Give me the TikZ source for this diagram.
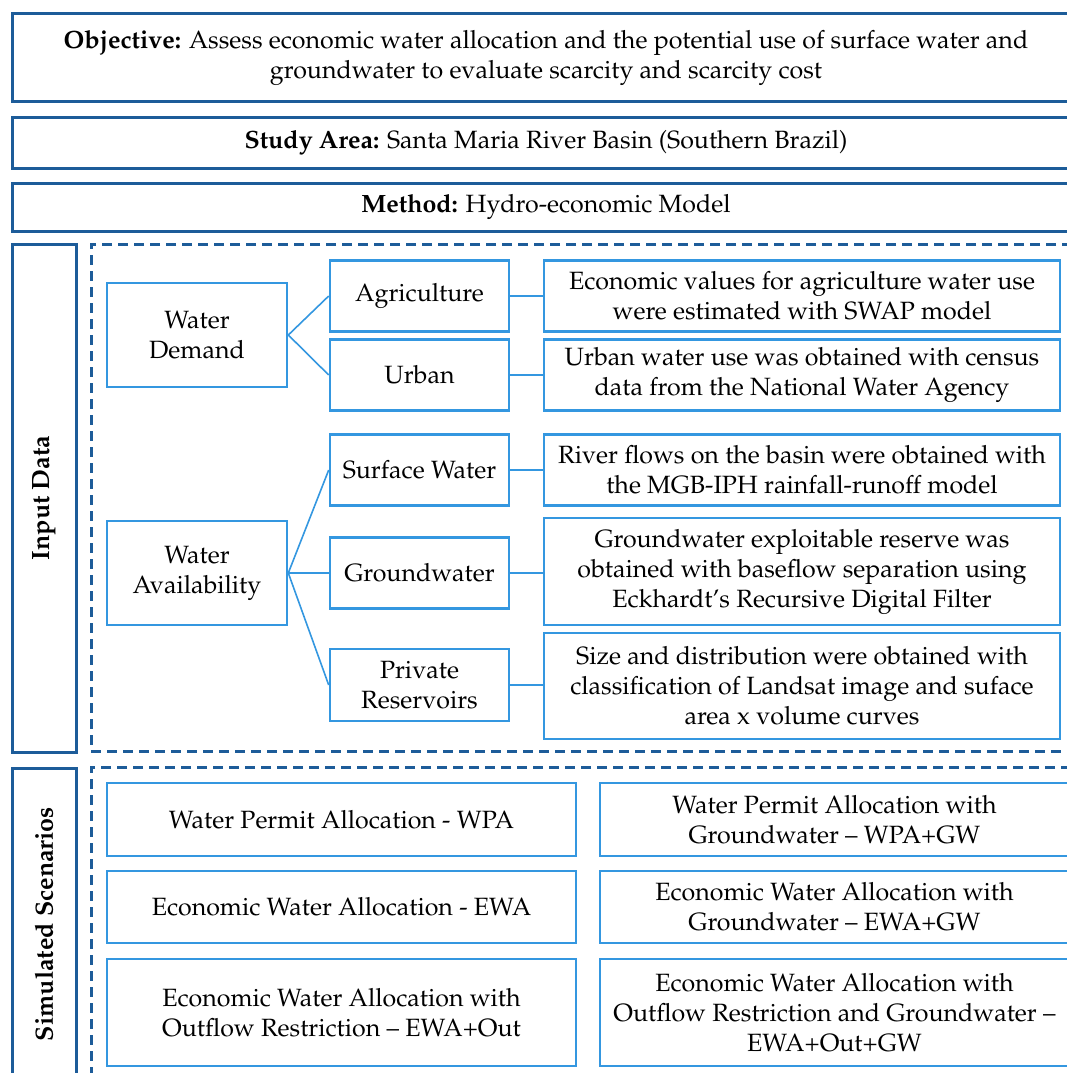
\documentclass[tikz,border=0pt]{standalone}
\usepackage[T1]{fontenc}
\usepackage{mathpazo}
\definecolor{dkblue}{HTML}{1D5C99}
\definecolor{ltblue}{HTML}{3497E0}
\newcommand\fsz{\fontsize{25}{30}\selectfont}
\begin{document}
\begin{tikzpicture}[x=1pt,y=-1pt,
  dkbox/.style={draw=dkblue,line width=3pt,rectangle,align=center,inner sep=0pt,font=\fsz},
  dashbox/.style={draw=dkblue,line width=3pt,rectangle,dash pattern=on 10pt off 6pt,inner sep=0pt},
  ltbox/.style={draw=ltblue,line width=2.6pt,rectangle,align=center,inner sep=0pt,font=\fsz},
  conn/.style={draw=ltblue,line width=1.6pt},
  sidebox/.style={draw=dkblue,line width=3pt,rectangle,rotate=90,inner sep=0pt,font=\fsz\bfseries}]
\useasboundingbox (0,0) rectangle (1067,1073);
\clip (0,0) rectangle (1067,1073);
% top boxes
\node[dkbox,minimum width=1068pt,minimum height=87pt] (obj) at (546,57.5)
  {\textbf{Objective:} Assess economic water allocation and the potential use of surface water and\\groundwater to evaluate scarcity and scarcity cost};
\node[dkbox,minimum width=1068pt,minimum height=51pt] (area) at (546,142.5)
  {\textbf{Study Area:} Santa Maria River Basin (Southern Brazil)};
\node[dkbox,minimum width=1068pt,minimum height=48pt] (meth) at (546,207)
  {\textbf{Method:} Hydro-economic Model};
% side boxes
\node[sidebox,minimum width=508pt,minimum height=64pt] (inside) at (44,498) {Input Data};
\node[sidebox,minimum width=312pt,minimum height=64pt] (simside) at (44,924) {Simulated Scenarios};
% dashed frames
\node[dashbox,minimum width=989pt,minimum height=507pt] (inframe) at (585.5,497.5) {};
\node[dashbox,minimum width=989pt,minimum height=330pt] (simframe) at (585.5,932) {};
% input data
\node[ltbox,minimum width=180pt,minimum height=104pt] (wd) at (197,335) {Water\\Demand};
\node[ltbox,minimum width=179pt,minimum height=71pt] (agri) at (419.5,296) {Agriculture};
\node[ltbox,minimum width=179pt,minimum height=71pt] (urb) at (419.5,375) {Urban};
\node[ltbox,minimum width=516pt,minimum height=71pt] (agrid) at (802,296)
  {Economic values for agriculture water use\\were estimated with SWAP model};
\node[ltbox,minimum width=516pt,minimum height=71pt] (urbd) at (802,375)
  {Urban water use was obtained with census\\data from the National Water Agency};
\node[ltbox,minimum width=180pt,minimum height=104pt] (wa) at (197,573) {Water\\Availability};
\node[ltbox,minimum width=179pt,minimum height=71pt] (sw) at (419.5,470) {Surface Water};
\node[ltbox,minimum width=179pt,minimum height=71pt] (gw) at (419.5,573) {Groundwater};
\node[ltbox,minimum width=179pt,minimum height=72pt] (pr) at (419.5,685) {Private\\Reservoirs};
\node[ltbox,minimum width=516pt,minimum height=71pt] (swd) at (802,470)
  {River flows on the basin were obtained with\\the MGB-IPH rainfall-runoff model};
\node[ltbox,minimum width=516pt,minimum height=107pt] (gwd) at (802,571.5)
  {Groundwater exploitable reserve was\\obtained with baseflow separation using\\Eckhardt's Recursive Digital Filter};
\node[ltbox,minimum width=516pt,minimum height=106pt] (prd) at (802,686)
  {Size and distribution were obtained with\\classification of Landsat image and suface\\area x volume curves};
% connectors
\draw[conn] (wd.east) -- (agri.west);
\draw[conn] (wd.east) -- (urb.west);
\draw[conn] (agri.east) -- (agrid.west);
\draw[conn] (urb.east) -- (urbd.west);
\draw[conn] (wa.east) -- (sw.west);
\draw[conn] (wa.east) -- (gw.west);
\draw[conn] (wa.east) -- (pr.west);
\draw[conn] (sw.east) -- (sw.east -| swd.west);
\draw[conn] (gw.east) -- (gw.east -| gwd.west);
\draw[conn] (pr.east) -- (pr.east -| prd.west);
% scenarios
\node[ltbox,minimum width=469pt,minimum height=73pt] (s1) at (341.5,819.5) {Water Permit Allocation - WPA};
\node[ltbox,minimum width=469pt,minimum height=73pt] (s2) at (834.5,819.5) {Water Permit Allocation with\\Groundwater -- WPA+GW};
\node[ltbox,minimum width=469pt,minimum height=72pt] (s3) at (341.5,907) {Economic Water Allocation - EWA};
\node[ltbox,minimum width=469pt,minimum height=72pt] (s4) at (834.5,907) {Economic Water Allocation with\\Groundwater -- EWA+GW};
\node[ltbox,minimum width=469pt,minimum height=107pt] (s5) at (341.5,1012.5) {Economic Water Allocation with\\Outflow Restriction -- EWA+Out};
\node[ltbox,minimum width=469pt,minimum height=107pt] (s6) at (834.5,1012.5) {Economic Water Allocation with\\Outflow Restriction and Groundwater --\\EWA+Out+GW};
\end{tikzpicture}
\end{document}
